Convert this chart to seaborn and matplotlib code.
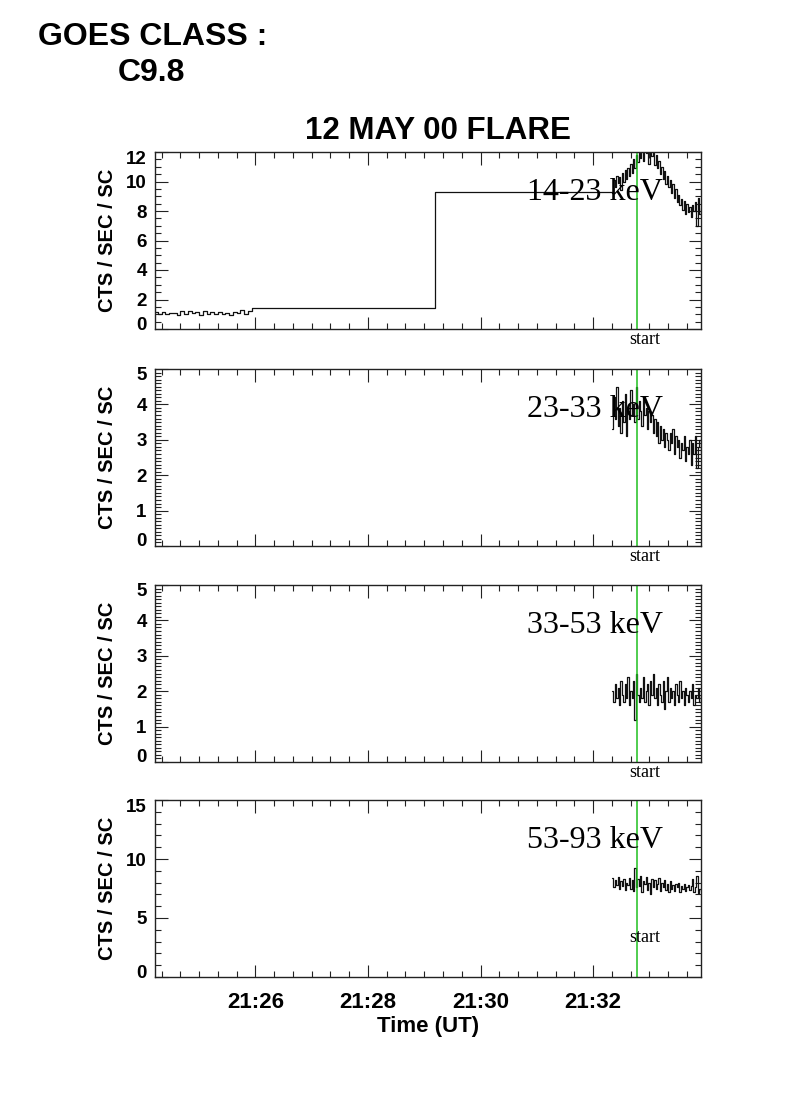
"""
HXR count-rate light curves, 12 May 2000 flare (four energy bands).
"""
import numpy as np
import pandas as pd
import matplotlib
matplotlib.use("Agg")
import matplotlib.pyplot as plt
import matplotlib.transforms as mtransforms
from matplotlib.ticker import MultipleLocator, FuncFormatter
import seaborn as sns

# ---- data (time in seconds after 21:00:00 UT) ----
BANDS = ["14-23 keV", "23-33 keV", "33-53 keV", "53-93 keV"]
YLIMS = [(0, 12), (0, 5), (0, 5), (0, 15)]
YMAJOR = [2, 1, 1, 5]
YMINOR = [0.5, 0.1, 0.1, 1]

# low-energy channel: pre-flare background samples (4 s bins)
bg_start, bg_step = 1452, 4
bg_counts = [1.15, 1.05, 1.12, 1.00, 1.10, 1.08, 0.95, 1.20, 1.02, 1.25,
             1.10, 1.15, 0.98, 1.20, 1.05, 1.12, 1.00, 1.18, 1.05, 1.10,
             0.97, 1.15, 1.08, 1.30, 1.02, 1.25]
# held values across the data gap
gap_times = [1556, 1751]
gap_counts = [1.43, 9.30]

# flare interval, 1.5 s bins starting 21:32:20
flare_start, flare_step = 1940, 1.5
band1 = [9.2, 10.1, 9.6, 10.4, 9.9, 10.3, 9.4, 10.6, 10.0, 10.8,
         10.2, 10.9, 10.4, 11.2, 10.6, 11.5, 10.9, 11.8, 11.3, 12.2,
         11.6, 12.4, 11.4, 12.3, 11.9, 12.5, 11.2, 12.1, 11.7, 11.9,
         11.1, 11.8, 10.9, 11.4, 10.5, 11.0, 10.2, 10.7, 9.8, 10.4,
         9.6, 10.1, 9.2, 9.8, 8.9, 9.5, 8.6, 9.1, 8.4, 8.8,
         8.1, 8.7, 7.8, 8.5, 7.9, 8.3, 7.6, 8.4, 8.0, 8.6,
         7.0, 8.9, 7.8, 8.2]
band2 = [3.3, 4.2, 3.6, 4.5, 3.4, 3.9, 3.2, 4.1, 3.5, 4.3,
         3.1, 3.8, 3.6, 4.4, 3.7, 4.0, 3.5, 4.5, 3.6, 4.1,
         3.8, 3.4, 4.2, 3.7, 3.9, 3.3, 3.8, 3.5, 3.7, 3.2,
         3.6, 3.1, 3.5, 2.9, 3.4, 3.0, 3.3, 2.8, 3.2, 3.0,
         2.7, 3.2, 2.9, 3.3, 2.6, 3.1, 2.8, 3.0, 2.5, 2.9,
         2.7, 3.1, 2.4, 2.8, 2.6, 3.0, 2.3, 2.9, 2.6, 3.1,
         2.2, 2.8, 3.0, 2.6]
band3 = [2.0, 1.7, 2.2, 1.8, 2.1, 1.6, 2.3, 1.9, 1.7, 2.2,
         1.8, 2.4, 1.6, 2.0, 1.8, 2.3, 1.2, 2.5, 1.9, 1.7,
         2.1, 1.8, 2.4, 1.7, 2.0, 2.2, 1.6, 2.3, 1.9, 2.5,
         1.8, 2.1, 1.6, 2.2, 1.9, 1.7, 2.3, 1.5, 2.0, 2.4,
         1.7, 2.1, 1.8, 2.0, 1.6, 2.2, 1.9, 1.7, 2.3, 1.8,
         2.0, 1.6, 2.1, 1.9, 1.7, 2.0, 1.8, 2.2, 1.6, 1.9,
         1.8, 2.1, 1.7, 1.9]
band4 = [8.4, 7.6, 8.2, 7.8, 8.5, 7.5, 8.1, 7.7, 8.3, 7.4,
         8.0, 7.8, 8.4, 7.5, 8.2, 7.3, 9.2, 7.6, 8.3, 7.7,
         8.6, 7.2, 8.1, 7.9, 8.5, 7.4, 8.0, 7.0, 8.3, 7.6,
         8.2, 7.5, 7.9, 8.4, 7.3, 8.0, 7.6, 8.2, 7.4, 7.9,
         7.2, 8.1, 7.5, 7.8, 7.3, 7.9, 7.6, 8.0, 7.2, 7.7,
         7.5, 7.9, 7.3, 7.6, 7.8, 7.4, 7.7, 8.3, 7.2, 7.6,
         8.6, 7.1, 7.5, 7.3]

T_START = 1967          # flare start marker, 21:32:47
X_RANGE = (1453, 2035)  # 21:24:13 .. 21:33:55
X_TICKS = [1560, 1680, 1800, 1920]


def band_frame(values, with_background=False):
    t = [flare_start + flare_step * i for i in range(len(values))]
    y = list(values)
    if with_background:
        t_bg = [bg_start + bg_step * i for i in range(len(bg_counts))]
        t = t_bg + gap_times + t
        y = list(bg_counts) + gap_counts + y
    # close last bin
    t.append(t[-1] + flare_step)
    y.append(y[-1])
    return pd.DataFrame({"t": t, "rate": y})


def hhmm(x, pos=None):
    m = int(round(x)) // 60
    return f"21:{m:02d}"


sns.set_style("ticks")
plt.rcParams["font.family"] = ["Liberation Sans", "DejaVu Sans"]
plt.rcParams["font.weight"] = "bold"
plt.rcParams["text.color"] = "black"
plt.rcParams["axes.labelcolor"] = "black"
plt.rcParams["xtick.color"] = "black"
plt.rcParams["ytick.color"] = "black"

fig = plt.figure(figsize=(7.9, 11.18), dpi=100)
W, H = 790, 1118
left, width, height = 155, 546, 177
tops = [152, 369, 585, 800]

axes = []
series = [band1, band2, band3, band4]
for k, top in enumerate(tops):
    ax = fig.add_axes([left / W, 1 - (top + height) / H, width / W, height / H])
    df = band_frame(series[k], with_background=(k == 0))
    sns.lineplot(data=df, x="t", y="rate", ax=ax, estimator=None, sort=False,
                 drawstyle="steps-post", color="#111111", linewidth=0.9)
    ax.axvline(T_START, color="#1fc01f", linewidth=1.1)

    lo, hi = YLIMS[k]
    ax.set_xlim(*X_RANGE)
    ax.set_ylim(lo, hi)
    ax.xaxis.set_major_locator(plt.FixedLocator(X_TICKS))
    ax.xaxis.set_minor_locator(MultipleLocator(20))
    ax.yaxis.set_major_locator(plt.FixedLocator(np.arange(lo, hi + 0.01, YMAJOR[k])))
    ax.yaxis.set_minor_locator(MultipleLocator(YMINOR[k]))
    ax.tick_params(which="both", direction="in", top=True, right=True,
                   width=0.8, color="#222222")
    ax.tick_params(which="major", length=9)
    ax.tick_params(which="minor", length=4.5)
    ax.tick_params(axis="y", labelsize=13.5, pad=6)
    ax.yaxis.set_major_formatter(FuncFormatter(lambda v, p: f"{v:g}"))
    for sp in ax.spines.values():
        sp.set_linewidth(1.0)
        sp.set_color("#222222")

    ax.set_ylabel("CTS / SEC / SC", fontsize=14.5, fontweight="bold")
    ax.yaxis.set_label_coords(-0.07, 0.5)

    trans = mtransforms.blended_transform_factory(ax.transData, ax.transAxes)
    ax.text(1849, 0.77, BANDS[k], transform=trans, ha="left", va="center",
            fontsize=23, fontweight="normal", family="Liberation Serif")
    start_y = 0.225 if k == 3 else -0.06
    ax.text(1975, start_y, "start", transform=trans, ha="center", va="center",
            fontsize=13, fontweight="normal", family="Liberation Serif")

    if k == 3:
        ax.xaxis.set_major_formatter(FuncFormatter(hhmm))
        ax.tick_params(axis="x", labelsize=16, pad=11)
        ax.set_xlabel("Time (UT)", fontsize=16, fontweight="bold", labelpad=2)
    else:
        ax.set_xticklabels([])
        ax.set_xlabel("")
    axes.append(ax)

fig.text(438 / W, 1 - 131 / H, "12 MAY 00 FLARE", ha="center", va="center",
         fontsize=22.5, fontweight="bold")
fig.text(38 / W, 1 - 37 / H, "GOES CLASS :", ha="left", va="center",
         fontsize=23, fontweight="bold")
fig.text(118 / W, 1 - 73 / H, "C9.8", ha="left", va="center",
         fontsize=23, fontweight="bold")

# end labels sit a little inside the axis range, as in the original plot
fig.canvas.draw()
up = mtransforms.ScaledTranslation(0, 6 / 100, fig.dpi_scale_trans)
down = mtransforms.ScaledTranslation(0, -5 / 100, fig.dpi_scale_trans)
for ax in axes:
    ticks = ax.yaxis.get_major_ticks()
    first, last = ticks[0].label1, ticks[-1].label1
    first.set_transform(first.get_transform() + up)
    last.set_transform(last.get_transform() + down)

fig.savefig("out.png", dpi=100, facecolor="white")
